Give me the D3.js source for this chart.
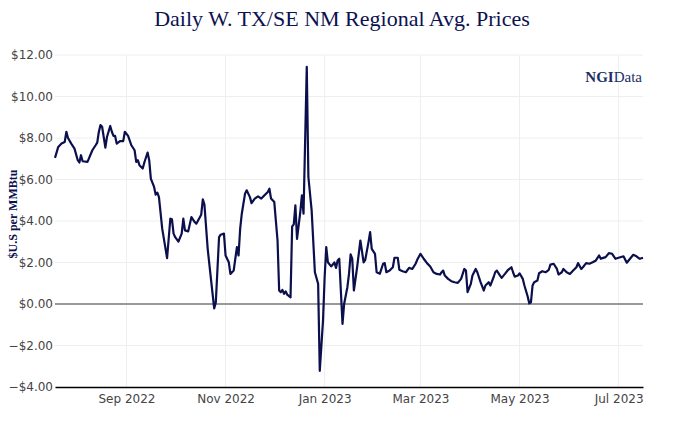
<!DOCTYPE html>
<html>
<head>
<meta charset="utf-8">
<script src="https://cdn.jsdelivr.net/npm/d3@7"></script>
<style>
html,body{margin:0;padding:0;background:#fff;}
svg{display:block;}
</style>
</head>
<body>
<script>
const dates = [
"2022-07-19","2022-07-21","2022-07-23","2022-07-25","2022-07-26","2022-07-27","2022-07-29","2022-07-31","2022-08-02","2022-08-03",
"2022-08-04","2022-08-05","2022-08-08","2022-08-11","2022-08-13","2022-08-14","2022-08-15","2022-08-16","2022-08-17","2022-08-19",
"2022-08-20","2022-08-22","2022-08-23","2022-08-24","2022-08-25","2022-08-26","2022-08-28","2022-08-30","2022-08-31","2022-09-02",
"2022-09-04","2022-09-06","2022-09-07","2022-09-08","2022-09-09","2022-09-11","2022-09-12","2022-09-14","2022-09-15","2022-09-16",
"2022-09-18","2022-09-19","2022-09-20","2022-09-21","2022-09-23","2022-09-26","2022-09-28","2022-09-29","2022-09-30","2022-10-01",
"2022-10-03","2022-10-05","2022-10-06","2022-10-07","2022-10-09","2022-10-11","2022-10-13","2022-10-14","2022-10-17","2022-10-18",
"2022-10-19","2022-10-21","2022-10-23","2022-10-25","2022-10-26","2022-10-28","2022-10-29","2022-10-31","2022-11-01","2022-11-03",
"2022-11-04","2022-11-06","2022-11-07","2022-11-08","2022-11-09","2022-11-10","2022-11-11","2022-11-13","2022-11-14","2022-11-16",
"2022-11-17","2022-11-19","2022-11-21","2022-11-23","2022-11-25","2022-11-27","2022-11-28","2022-11-29","2022-12-01","2022-12-03",
"2022-12-04","2022-12-05","2022-12-06","2022-12-07","2022-12-08","2022-12-09","2022-12-11","2022-12-12","2022-12-13","2022-12-14",
"2022-12-15","2022-12-17","2022-12-18","2022-12-19","2022-12-21","2022-12-22","2022-12-24","2022-12-26","2022-12-28","2022-12-29",
"2022-12-31","2023-01-01","2023-01-02","2023-01-03","2023-01-05","2023-01-06","2023-01-07","2023-01-08","2023-01-09","2023-01-10",
"2023-01-12","2023-01-13","2023-01-15","2023-01-16","2023-01-17","2023-01-18","2023-01-19","2023-01-21","2023-01-22","2023-01-23",
"2023-01-25","2023-01-26","2023-01-28","2023-01-29","2023-01-30","2023-02-01","2023-02-02","2023-02-04","2023-02-06","2023-02-07",
"2023-02-08","2023-02-10","2023-02-12","2023-02-13","2023-02-15","2023-02-16","2023-02-18","2023-02-20","2023-02-22","2023-02-24",
"2023-02-26","2023-02-27","2023-03-01","2023-03-03","2023-03-05","2023-03-07","2023-03-09","2023-03-11","2023-03-13","2023-03-14",
"2023-03-15","2023-03-16","2023-03-18","2023-03-20","2023-03-22","2023-03-24","2023-03-26","2023-03-28","2023-03-29","2023-03-30",
"2023-04-01","2023-04-02","2023-04-04","2023-04-05","2023-04-07","2023-04-09","2023-04-10","2023-04-12","2023-04-13","2023-04-15",
"2023-04-16","2023-04-17","2023-04-19","2023-04-20","2023-04-22","2023-04-24","2023-04-26","2023-04-27","2023-04-28","2023-04-30",
"2023-05-01","2023-05-03","2023-05-04","2023-05-06","2023-05-07","2023-05-08","2023-05-09","2023-05-10","2023-05-12","2023-05-13",
"2023-05-15","2023-05-17","2023-05-19","2023-05-20","2023-05-22","2023-05-24","2023-05-25","2023-05-27","2023-05-28","2023-05-30",
"2023-06-01","2023-06-03","2023-06-05","2023-06-06","2023-06-08","2023-06-09","2023-06-11","2023-06-13","2023-06-15","2023-06-17",
"2023-06-19","2023-06-20","2023-06-21","2023-06-23","2023-06-25","2023-06-27","2023-06-29","2023-07-01","2023-07-04","2023-07-06",
"2023-07-08","2023-07-10","2023-07-12","2023-07-14","2023-07-16"
];
const prices = [
7.04,7.57,7.73,7.81,8.30,8.00,7.73,7.49,6.93,6.82,
7.17,6.88,6.85,7.41,7.65,7.78,8.30,8.62,8.54,7.54,
8.05,8.58,8.30,8.10,8.10,7.73,7.85,7.85,8.30,8.10,
7.65,7.41,6.85,6.93,6.69,6.53,6.82,7.30,6.93,6.04,
5.64,5.27,5.37,5.15,3.63,2.21,4.11,4.08,3.39,3.22,
3.01,3.39,4.11,3.55,3.50,4.19,3.95,3.87,4.30,5.04,
4.79,2.66,1.21,-0.21,0.08,3.22,3.34,3.39,2.34,2.01,
1.45,1.61,2.18,2.74,2.34,3.63,4.35,5.32,5.48,5.15,
4.86,5.08,5.19,5.08,5.24,5.40,5.56,5.08,4.91,3.06,
0.65,0.57,0.68,0.49,0.61,0.45,0.32,3.74,3.84,4.75,
3.14,4.43,5.24,4.35,11.43,6.12,4.51,1.53,0.97,-3.22,
-0.80,1.29,2.74,2.01,1.81,1.90,2.01,1.74,2.10,2.18,
-0.96,0.00,0.81,1.45,2.39,2.18,0.65,1.77,2.42,3.06,
2.01,2.13,2.98,3.46,2.66,2.42,1.53,1.46,1.94,1.97,
1.53,1.61,1.77,2.23,2.23,1.65,1.58,1.53,1.74,1.69,
1.94,2.13,2.42,2.18,1.97,1.81,1.53,1.45,1.42,1.53,
1.61,1.37,1.21,1.10,1.05,1.02,1.21,1.69,1.61,0.57,
0.97,1.37,1.69,1.53,1.05,0.65,0.89,1.05,0.89,1.29,
1.53,1.61,1.37,1.26,1.45,1.65,1.77,1.53,1.32,1.37,
1.48,1.21,0.89,0.36,0.03,0.08,0.89,1.05,1.13,1.48,
1.58,1.53,1.65,1.90,1.94,1.69,1.42,1.53,1.69,1.53,
1.45,1.61,1.77,1.97,1.69,1.77,1.97,1.94,2.01,2.10,
2.34,2.18,2.21,2.26,2.45,2.42,2.18,2.23,2.30,1.99,
2.18,2.37,2.30,2.18,2.23
];
const yTicks = [-4,-2,0,2,4,6,8,10,12];
const xTickDates = ["2022-09-01","2022-11-01","2023-01-01","2023-03-01","2023-05-01","2023-07-01"];
const titleText = "Daily W. TX/SE NM Regional Avg. Prices";
const yAxisTitle = "$U.S per MMBtu";

const W = 684, H = 427;
const M = {left:55, right:643, top:55, bottom:387};
const parse = d3.timeParse("%Y-%m-%d");
const data = dates.map((d,i)=>({date:parse(d), value:prices[i]}));

const svg = d3.select("body").append("svg").attr("width",W).attr("height",H);

const x = d3.scaleTime().domain(d3.extent(data,d=>d.date)).range([M.left,M.right]);
const y = d3.scaleLinear().domain([-4,12]).range([M.bottom,M.top]);

const tickFont = "'DejaVu Sans', Verdana, sans-serif";

// horizontal grid
svg.append("g").selectAll("line").data(yTicks.filter(t=>t!==0 && t!==-4)).join("line")
  .attr("x1",M.left).attr("x2",M.right)
  .attr("y1",d=>y(d)).attr("y2",d=>y(d))
  .attr("stroke","#eeeeee").attr("stroke-width",1);

// vertical grid
svg.append("g").selectAll("line").data(xTickDates.map(parse)).join("line")
  .attr("x1",d=>x(d)).attr("x2",d=>x(d))
  .attr("y1",M.top).attr("y2",M.bottom)
  .attr("stroke","#eeeeee").attr("stroke-width",1);

// zero line
svg.append("line").attr("x1",M.left).attr("x2",M.right)
  .attr("y1",y(0)).attr("y2",y(0)).attr("stroke","#999999").attr("stroke-width",2);

// y axis labels
const fmt = v => (v<0?"\u2212":"") + "$" + Math.abs(v).toFixed(2);
const yAxis = d3.axisLeft(y).tickValues(yTicks).tickFormat(fmt).tickSize(0).tickPadding(2);
const gy = svg.append("g").attr("transform",`translate(${M.left},0)`).call(yAxis);
gy.select(".domain").remove();
gy.selectAll("text").attr("font-family",tickFont).attr("font-size",12).attr("fill","#444");

// x axis
const xAxis = d3.axisBottom(x).tickValues(xTickDates.map(parse)).tickFormat(d3.timeFormat("%b %Y")).tickSize(0).tickPadding(7);
const gx = svg.append("g").attr("transform",`translate(0,${M.bottom})`).call(xAxis);
gx.select(".domain").attr("stroke","#000").attr("stroke-width",1.5);
gx.selectAll("text").attr("font-family",tickFont).attr("font-size",12).attr("fill","#444");

// line
const line = d3.line().x(d=>x(d.date)).y(d=>y(d.value)).curve(d3.curveLinear);
svg.append("path").datum(data).attr("d",line)
  .attr("fill","none").attr("stroke","#0b0f4c").attr("stroke-width",2.2).attr("stroke-linejoin","round");

// title
svg.append("text").attr("x",342).attr("y",26).attr("text-anchor","middle")
  .attr("font-family","'Liberation Serif', 'Times New Roman', serif").attr("font-size",22)
  .attr("fill","#0d1150").text(titleText);

// y axis title
svg.append("text").attr("transform","translate(17,214) rotate(-90)").attr("text-anchor","middle")
  .attr("font-family","'Liberation Serif', 'Times New Roman', serif").attr("font-size",12).attr("font-weight","bold")
  .attr("fill","#0d1150").text(yAxisTitle);

// logo
const logo = svg.append("text").attr("x",642).attr("y",81.5).attr("text-anchor","end")
  .attr("font-family","'Liberation Serif', 'Times New Roman', serif").attr("font-size",15).attr("fill","#1b2f66");
logo.append("tspan").attr("font-weight","bold").text("NGI");
logo.append("tspan").text("Data");
</script>
</body>
</html>
